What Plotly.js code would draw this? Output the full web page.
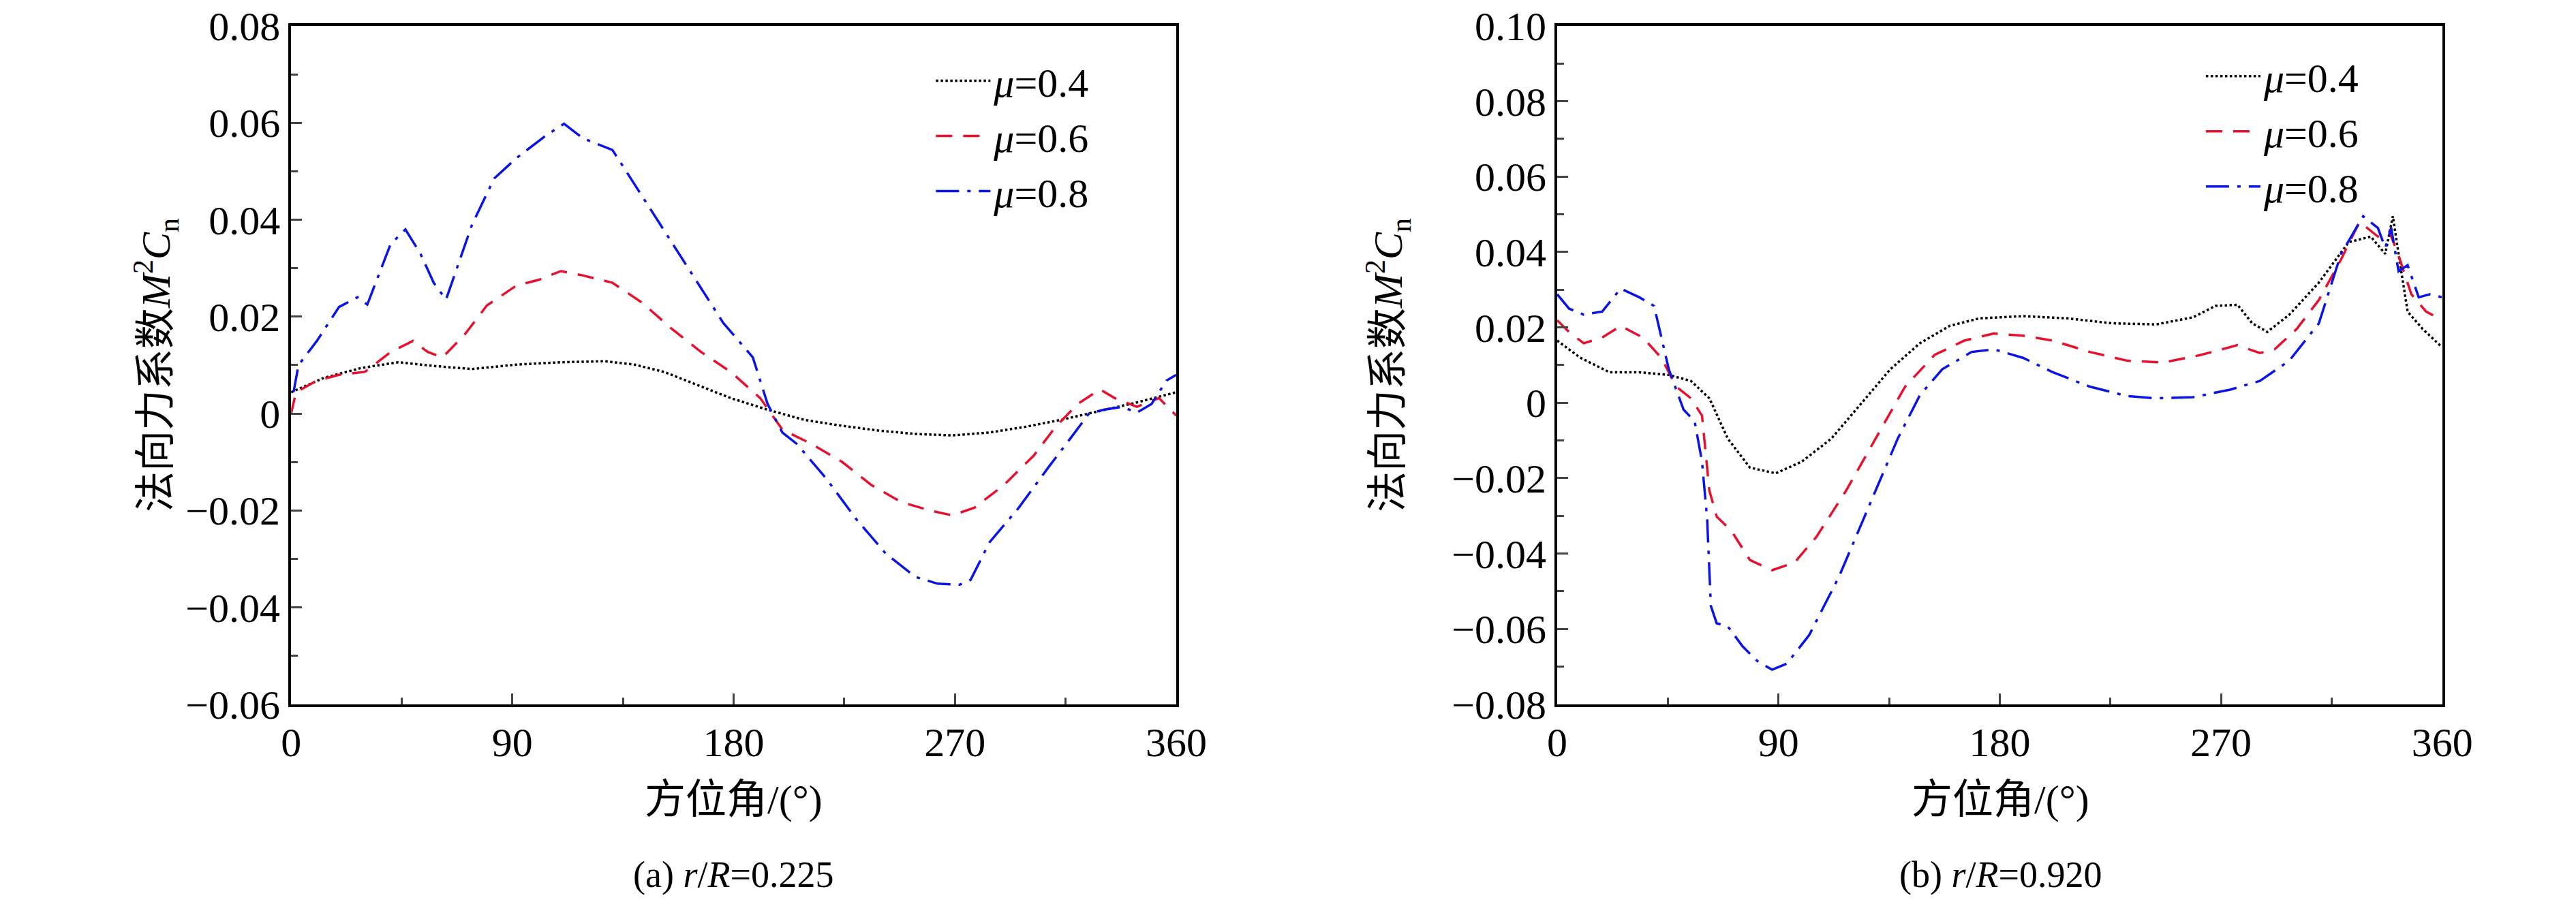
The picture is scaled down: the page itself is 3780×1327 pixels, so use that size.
<!DOCTYPE html>
<html>
<head>
<meta charset="utf-8">
<script src="https://cdn.plot.ly/plotly-3.0.1.min.js"></script>
<style>body{margin:0;background:#fff}#chart{width:3780px;height:1327px}</style>
</head>
<body>
<div id="chart"></div>
<script>
// (a) r/R=0.225
var angA04 = [0, 13.5, 28.5, 43.6, 58.6, 73.6, 91.6, 109.7, 127.7, 139.7, 151.7, 163.8, 178.8, 193.8, 208.8, 223.9, 238.9, 253.9, 268.9, 284, 299, 314, 329, 344, 360];
var valA04 = [0.0044, 0.0074, 0.0094, 0.0106, 0.0098, 0.0092, 0.0101, 0.0106, 0.0108, 0.0101, 0.0086, 0.0062, 0.0032, 0.0008, -0.0013, -0.0025, -0.0035, -0.0042, -0.0045, -0.0039, -0.0027, -0.0012, 0.0006, 0.0023, 0.0044];
var angA06 = [0, 2, 10.5, 19.5, 30, 40.5, 49.6, 55.6, 61.6, 70.6, 79.6, 91.6, 100.7, 109.7, 118.7, 130.7, 142.7, 154.8, 166.8, 178.8, 190.8, 199.8, 211.8, 223.9, 235.9, 247.9, 259.9, 268.9, 278, 290, 302, 311, 320, 329, 335, 344, 353, 360];
var valA06 = [0, 0.0044, 0.0068, 0.008, 0.0086, 0.0127, 0.015, 0.0127, 0.0116, 0.0163, 0.0223, 0.0264, 0.0276, 0.0294, 0.0285, 0.027, 0.0229, 0.0175, 0.0127, 0.0086, 0.0032, -0.0033, -0.0063, -0.0099, -0.0147, -0.0182, -0.02, -0.021, -0.0194, -0.0147, -0.0087, -0.0027, 0.002, 0.005, 0.0032, 0.0014, 0.0032, -0.0004];
var angA08 = [1, 3, 10.5, 19.5, 27, 31, 40.5, 46.5, 52.6, 58, 63, 73.6, 82.6, 91.6, 103.7, 111, 118.7, 130.7, 139.7, 151.7, 163.8, 175.8, 187.8, 193.8, 199.8, 205.8, 217.8, 229.9, 241.9, 253.9, 263, 272, 276.4, 284, 296, 308, 317, 324.5, 330.5, 338, 344, 350, 356, 360];
var valA08 = [0.0044, 0.010, 0.015, 0.022, 0.024, 0.0225, 0.035, 0.038, 0.033, 0.027, 0.0235, 0.039, 0.0485, 0.0527, 0.0574, 0.0598, 0.0568, 0.0544, 0.0473, 0.0378, 0.0282, 0.0187, 0.0116, 0.002, -0.0039, -0.0063, -0.0135, -0.0218, -0.0289, -0.0337, -0.0351, -0.0353, -0.0343, -0.0266, -0.0194, -0.0111, -0.0051, 0, 0.0008, 0.0014, 0.0002, 0.002, 0.0068, 0.008];

// (b) r/R=0.920
var angB04 = [0, 9.3, 21.3, 33.4, 45.4, 54.4, 61.9, 69.4, 78.4, 88.9, 99.5, 111.5, 123.5, 135.5, 147.5, 159.6, 171.6, 189.6, 207.6, 225.7, 243.7, 258.7, 267.7, 276.7, 282.7, 288.8, 297.8, 309.8, 321.9, 330.9, 336.8, 339.9, 342.9, 345.9, 352, 359.5];
var valB04 = [0.0165, 0.012, 0.0081, 0.0081, 0.0074, 0.0058, 0.0012, -0.0095, -0.0172, -0.0187, -0.0156, -0.0095, -0.0003, 0.0089, 0.0158, 0.0204, 0.0224, 0.023, 0.0224, 0.0211, 0.0208, 0.0227, 0.0257, 0.026, 0.0211, 0.0188, 0.0234, 0.0319, 0.0426, 0.0441, 0.0395, 0.0495, 0.0365, 0.0242, 0.0196, 0.015];
var angB06 = [0, 4.8, 10.8, 18.3, 25.8, 34.9, 42.4, 48.4, 54.4, 58.9, 61.9, 64.9, 70.9, 78.4, 87.4, 96.5, 105.5, 117.5, 129.5, 141.5, 153.5, 165.6, 177.6, 189.6, 201.6, 216.6, 231.7, 246.7, 261.8, 276.7, 285.8, 291.8, 300.8, 309.8, 318.8, 326.3, 333.8, 338.3, 342, 347.4, 353.4, 360];
var valB06 = [0.0219, 0.0188, 0.0158, 0.0173, 0.0204, 0.0173, 0.0119, 0.0043, 0.0012, -0.0034, -0.0233, -0.0302, -0.034, -0.0417, -0.0444, -0.0424, -0.0355, -0.0233, -0.0095, 0.0043, 0.0127, 0.0165, 0.0184, 0.0178, 0.0165, 0.0135, 0.0112, 0.0107, 0.0127, 0.0153, 0.0132, 0.0142, 0.0196, 0.0273, 0.038, 0.048, 0.0441, 0.0456, 0.0395, 0.0288, 0.0242, 0.0219];
var angB08 = [0, 4.8, 10.8, 18.3, 25.8, 33.4, 39.4, 45.4, 51.4, 55.9, 58.9, 61, 62.5, 64.9, 69.4, 75.4, 81.4, 87.4, 93.4, 102.5, 114.5, 126.5, 138.5, 147.5, 156.6, 168.6, 177.6, 189.6, 201.6, 216.6, 231.7, 243.7, 258.7, 273.7, 285.8, 297.8, 309.8, 318.8, 327.8, 333.8, 336.8, 339.2, 342.2, 345.9, 350.4, 354.9, 360];
var valB08 = [0.0288, 0.025, 0.0234, 0.0242, 0.0303, 0.028, 0.0257, 0.0089, -0.0018, -0.0049, -0.0156, -0.0309, -0.0539, -0.0585, -0.0593, -0.0646, -0.0685, -0.0708, -0.0692, -0.0616, -0.0463, -0.0279, -0.0095, 0.002, 0.0089, 0.0135, 0.0142, 0.0119, 0.0081, 0.0043, 0.0018, 0.0012, 0.0015, 0.0035, 0.0058, 0.0112, 0.0211, 0.0395, 0.0495, 0.0464, 0.0411, 0.0464, 0.0349, 0.0365, 0.028, 0.0288, 0.028];

var seriesNames = ['<i>μ</i>=0.4', '<i>μ</i>=0.6', '<i>μ</i>=0.8'];
var xTickVals = [0, 90, 180, 270, 360];
var yTickValsA = [-0.06, -0.04, -0.02, 0, 0.02, 0.04, 0.06, 0.08];
var yTickTextA = ['−0.06', '−0.04', '−0.02', '0', '0.02', '0.04', '0.06', '0.08'];
var yTickValsB = [-0.08, -0.06, -0.04, -0.02, 0, 0.02, 0.04, 0.06, 0.08, 0.10];
var yTickTextB = ['−0.08', '−0.06', '−0.04', '−0.02', '0', '0.02', '0.04', '0.06', '0.08', '0.10'];

var FONT = 'Liberation Serif, Noto Sans CJK SC, serif';
var styles = [
  {color: '#000000', dash: 'dot', width: 3.5},
  {color: '#e8112d', dash: '24px,16px', width: 3.5},
  {color: '#0a14e6', dash: '34px,12px,5px,12px', width: 3.5}
];

function makeTrace(x, y, i, xa, ya, leg) {
  return {
    x: x, y: y, type: 'scatter', mode: 'lines', name: seriesNames[i],
    line: styles[i], xaxis: xa, yaxis: ya, legend: leg
  };
}

var data = [
  makeTrace(angA04, valA04, 0, 'x', 'y', 'legend'),
  makeTrace(angA06, valA06, 1, 'x', 'y', 'legend'),
  makeTrace(angA08, valA08, 2, 'x', 'y', 'legend'),
  makeTrace(angB04, valB04, 0, 'x2', 'y2', 'legend2'),
  makeTrace(angB06, valB06, 1, 'x2', 'y2', 'legend2'),
  makeTrace(angB08, valB08, 2, 'x2', 'y2', 'legend2')
];

function xAxis(domain, anchor) {
  return {
    domain: domain, anchor: anchor, range: [0, 360], tickvals: xTickVals,
    ticks: 'inside', ticklen: 16, tickwidth: 3, showgrid: false, zeroline: false,
    showline: true, linewidth: 4, linecolor: '#000', mirror: true,
    minor: {tickvals: [45, 135, 225, 315], ticks: 'inside', ticklen: 10, tickwidth: 3, showgrid: false},
    tickfont: {family: FONT, size: 60, color: '#000'}
  };
}
function yAxis(range, vals, text, anchor, minorVals) {
  return {
    domain: [0.2208, 0.9714], anchor: anchor, range: range, tickvals: vals, ticktext: text,
    ticks: 'inside', ticklen: 16, tickwidth: 3, showgrid: false, zeroline: false,
    showline: true, linewidth: 4, linecolor: '#000', mirror: true,
    minor: {tickvals: minorVals, ticks: 'inside', ticklen: 10, tickwidth: 3, showgrid: false},
    tickfont: {family: FONT, size: 60, color: '#000'}
  };
}

var minorA = [-0.05, -0.03, -0.01, 0.01, 0.03, 0.05, 0.07];
var minorB = [-0.07, -0.05, -0.03, -0.01, 0.01, 0.03, 0.05, 0.07, 0.09];

var yTitle = '法向力系数<i>M</i><sup>2</sup><i>C</i><sub>n</sub>';
function ann(text, x, y, angle, size) {
  return {text: text, x: x, y: y, xref: 'paper', yref: 'paper', showarrow: false,
    xanchor: 'center', yanchor: 'middle', textangle: angle || 0,
    font: {family: FONT, size: size || 60, color: '#000'}};
}

var legendBase = {
  font: {family: FONT, size: 60, color: '#000'}, bgcolor: 'rgba(0,0,0,0)',
  xanchor: 'left', yanchor: 'top', itemwidth: 80, tracegroupgap: 0
};

var layout = {
  width: 3780, height: 1327, paper_bgcolor: '#fff', plot_bgcolor: '#fff',
  margin: {l: 0, r: 0, t: 0, b: 0},
  xaxis: xAxis([0.113, 0.4566], 'y'),
  yaxis: yAxis([-0.06, 0.08], yTickValsA, yTickTextA, 'x', minorA),
  xaxis2: xAxis([0.6045, 0.9481], 'y2'),
  yaxis2: yAxis([-0.08, 0.10], yTickValsB, yTickTextB, 'x2', minorB),
  showlegend: true,
  legend: Object.assign({x: 0.362, y: 0.945}, legendBase),
  legend2: Object.assign({x: 0.855, y: 0.950}, legendBase),
  annotations: [
    ann(yTitle, 229 / 3780, 0.596, -90),
    ann(yTitle, 2037 / 3780, 0.596, -90),
    ann('方位角/(°)', 1076 / 3780, 1 - 1174 / 1327),
    ann('方位角/(°)', 2935 / 3780, 1 - 1174 / 1327),
    ann('(a) <i>r</i>/<i>R</i>=0.225', 1076 / 3780, 1 - 1284 / 1327, 0, 54),
    ann('(b) <i>r</i>/<i>R</i>=0.920', 2935 / 3780, 1 - 1284 / 1327, 0, 54)
  ]
};

Plotly.newPlot('chart', data, layout, {staticPlot: true});
</script>
</body>
</html>
